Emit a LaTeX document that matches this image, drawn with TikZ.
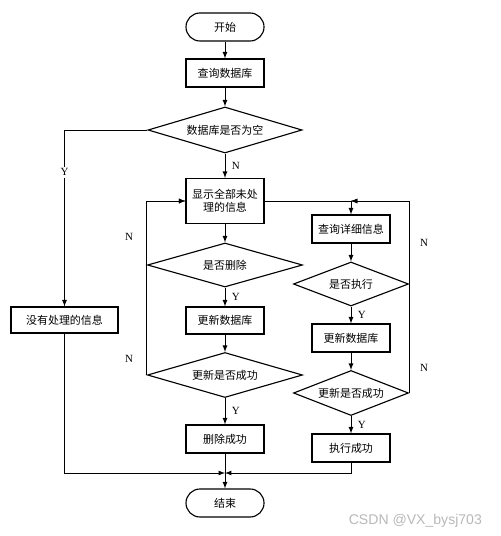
\documentclass[tikz,border=0pt]{standalone}
\usepackage{fontspec}
\setmainfont{Liberation Serif}
\newfontfamily\cjkfont{Noto Sans CJK SC}
\usetikzlibrary{shapes.geometric}

\definecolor{WatermarkColor}{rgb}{0.72,0.72,0.72}
\tikzstyle{fc-base}=[draw=black,
                     line width=0.8pt,
                     text centered,
                     inner sep=0pt,
                     font=\cjkfont\fontsize{7.8}{9}\selectfont
                    ]
\tikzstyle{procbox}=[fc-base, rectangle,
                     minimum width=1.95cm,
                     minimum height=0.7cm]
\tikzstyle{termbox}=[procbox, rounded corners=0.35cm]
\tikzstyle{decision}=[fc-base, diamond, aspect=3]
\tikzstyle{yn}=[font=\fontsize{7.8}{9}\selectfont, inner sep=1.5pt]

\begin{document}
\begin{tikzpicture}[x=0.025cm, y=-0.025cm, line width=0.6pt]

\useasboundingbox (0,0) rectangle (500,536);

\node at (225, 27) (main_step0) [termbox] {开始};
\node at (225, 73) (main_step1) [procbox] {查询数据库};
\node at (225,130) (main_step2) [decision, minimum width=3.85cm, minimum height=1.15cm] {数据库是否为空};
\node at (225,201) (main_step3) [procbox, minimum height=1.125cm, align=center] {显示全部未处\\理的信息};
\node at (64.5,320) (main_step4) [procbox, minimum width=2.675cm, minimum height=0.65cm] {没有处理的信息};

  % delete branch
  \node at (225,265) (del_step0) [decision, minimum width=3.875cm, minimum height=1.1cm] {是否删除};
  \node at (225,320.5) (del_step1) [procbox, minimum height=0.675cm] {更新数据库};
  \node at (225,375) (del_step2) [decision, minimum width=3.875cm, minimum height=1.125cm] {更新是否成功};
  \node at (225,439) (del_step3) [procbox] {删除成功};

  % execute branch
  \node at (351,229) (exec_step0) [procbox] {查询详细信息};
  \node at (351,284) (exec_step1) [decision, minimum width=2.875cm, minimum height=1.1cm, aspect=2.6] {是否执行};
  \node at (351,338) (exec_step2) [procbox] {更新数据库};
  \node at (351,393) (exec_step3) [decision, minimum width=2.875cm, minimum height=1.125cm, aspect=2.6] {更新是否成功};
  \node at (351,448) (exec_step4) [procbox] {执行成功};

\node at (225,503) (main_end) [termbox] {结束};

\coordinate (merge) at (225,473);
\coordinate (rjoin) at (exec_step0.north |- main_step3.east);

\node at (487,521) (watermark) [anchor=east, text=WatermarkColor, font=\fontspec{Liberation Sans}\fontsize{10}{12}\selectfont] {CSDN @VX\_bysj703};

\draw[-latex] (main_step0) -- (main_step1);
\draw[-latex] (main_step1) -- (main_step2);
\draw[-latex] (main_step2) -- node[yn, right, xshift=3pt] {N} (main_step3);
\draw[-latex] (main_step2.west) -| node[yn, pos=0.62, fill=white] {Y} (main_step4.north);
\draw[-latex] (main_step3) -- (del_step0);
\draw[-latex] (del_step0) -- node[yn, right, xshift=3pt] {Y} (del_step1);
\draw[-latex] (del_step1) -- (del_step2);
\draw[-latex] (del_step2) -- node[yn, right, xshift=3pt] {Y} (del_step3);
\draw[-latex] (del_step3) -- (main_end);
\draw[-latex] (del_step0.west) |- node[yn, pos=0.22, left, xshift=-8pt] {N} (main_step3.west);
\draw[-latex] (del_step2.west) |- node[yn, pos=0.045, left, xshift=-8pt] {N} (main_step3.west);
\draw[-latex] (main_step4.south) |- (merge);

\draw[-latex] (main_step3.east) -| (exec_step0.north);
\draw[-latex] (exec_step0) -- (exec_step1);
\draw[-latex] (exec_step1) -- node[yn, right, xshift=3pt] {Y} (exec_step2);
\draw[-latex] (exec_step2) -- (exec_step3);
\draw[-latex] (exec_step3) -- node[yn, right, xshift=3pt] {Y} (exec_step4);
\draw[-latex] (exec_step1.east) |- node[yn, pos=0.25, right, xshift=6pt] {N} (rjoin);
\draw[-latex] (exec_step3.east) |- node[yn, pos=0.065, right, xshift=6pt] {N} (rjoin);
\draw[-latex] (exec_step4.south) |- (merge);

\end{tikzpicture}
\end{document}
